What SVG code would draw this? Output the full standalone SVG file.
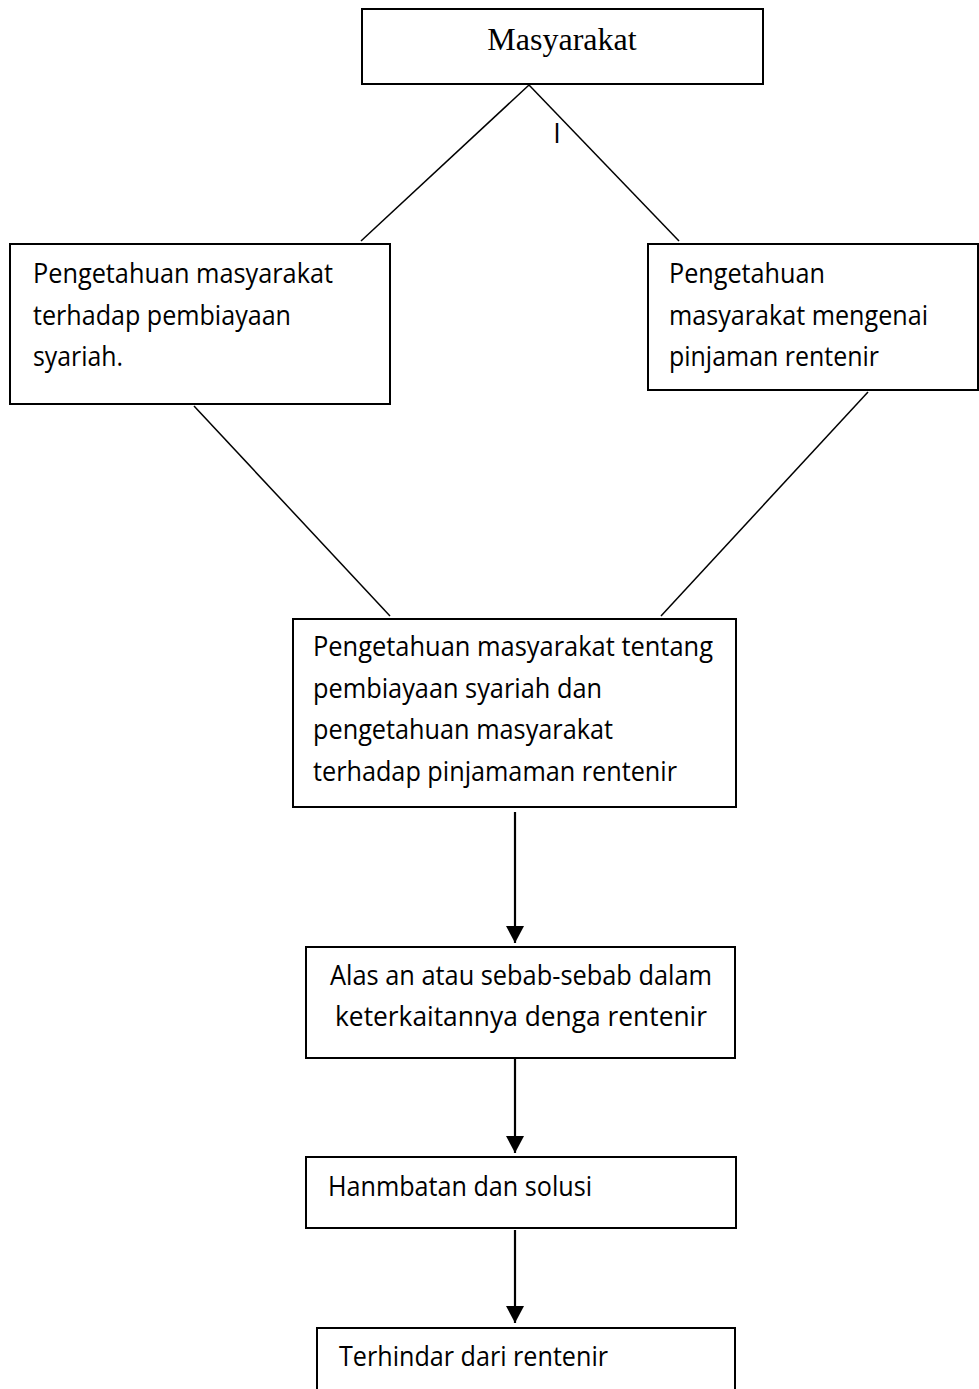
<svg xmlns="http://www.w3.org/2000/svg" width="979" height="1389" viewBox="0 0 979 1389">
<style>
.box{fill:#fff;stroke:#000;stroke-width:2}
.t{font-family:"Open Sans","Liberation Sans",sans-serif;font-size:27px;fill:#000}
.serif{font-family:"Liberation Serif","Times New Roman",serif;font-size:32px;fill:#000}
.ln{stroke:#000;stroke-width:1.5;fill:none}
.ar{stroke:#000;stroke-width:2.2;fill:none}
</style>
<defs>
<marker id="ah" markerUnits="userSpaceOnUse" markerWidth="18" markerHeight="18" refX="17" refY="9" orient="auto">
<path d="M0,0 L17,9 L0,18 z" fill="#000"/>
</marker>
</defs>
<rect width="979" height="1389" fill="#fff"/>
<g id="connectors">
<line class="ln" x1="529" y1="85" x2="361" y2="241"/>
<line class="ln" x1="529" y1="85" x2="679" y2="241"/>
<line class="ln" x1="194" y1="406" x2="390" y2="616"/>
<line class="ln" x1="868" y1="392" x2="661" y2="616"/>
<line class="ar" x1="515" y1="812" x2="515" y2="943" marker-end="url(#ah)"/>
<line class="ar" x1="515" y1="1059" x2="515" y2="1153" marker-end="url(#ah)"/>
<line class="ar" x1="515" y1="1230" x2="515" y2="1323" marker-end="url(#ah)"/>
<text class="t" x="557" y="143" text-anchor="middle">I</text>
</g>
<g id="masyarakat">
<rect class="box" x="362" y="9" width="401" height="75"/>
<text class="serif" x="562" y="50" text-anchor="middle">Masyarakat</text>
</g>
<g id="pengetahuan-syariah">
<rect class="box" x="10" y="244" width="380" height="160"/>
<text class="t" x="33" y="283" textLength="300" lengthAdjust="spacingAndGlyphs">Pengetahuan masyarakat</text>
<text class="t" x="33" y="324.5" textLength="258" lengthAdjust="spacingAndGlyphs">terhadap pembiayaan</text>
<text class="t" x="33" y="366" textLength="90" lengthAdjust="spacingAndGlyphs">syariah.</text>
</g>
<g id="pengetahuan-rentenir">
<rect class="box" x="648" y="244" width="330" height="146"/>
<text class="t" x="669" y="283" textLength="156" lengthAdjust="spacingAndGlyphs">Pengetahuan</text>
<text class="t" x="669" y="324.5" textLength="259" lengthAdjust="spacingAndGlyphs">masyarakat mengenai</text>
<text class="t" x="669" y="366" textLength="210" lengthAdjust="spacingAndGlyphs">pinjaman rentenir</text>
</g>
<g id="pengetahuan-gabungan">
<rect class="box" x="293" y="619" width="443" height="188"/>
<text class="t" x="313" y="656" textLength="400" lengthAdjust="spacingAndGlyphs">Pengetahuan masyarakat tentang</text>
<text class="t" x="313" y="698" textLength="289" lengthAdjust="spacingAndGlyphs">pembiayaan syariah dan</text>
<text class="t" x="313" y="739" textLength="300" lengthAdjust="spacingAndGlyphs">pengetahuan masyarakat</text>
<text class="t" x="313" y="781" textLength="364" lengthAdjust="spacingAndGlyphs">terhadap pinjamaman rentenir</text>
</g>
<g id="alasan">
<rect class="box" x="306" y="947" width="429" height="111"/>
<text class="t" x="521" y="985" text-anchor="middle" textLength="382" lengthAdjust="spacingAndGlyphs">Alas an atau sebab-sebab dalam</text>
<text class="t" x="521" y="1026" text-anchor="middle" textLength="372" lengthAdjust="spacingAndGlyphs">keterkaitannya denga rentenir</text>
</g>
<g id="hambatan">
<rect class="box" x="306" y="1157" width="430" height="71"/>
<text class="t" x="328" y="1196" textLength="264" lengthAdjust="spacingAndGlyphs">Hanmbatan dan solusi</text>
</g>
<g id="terhindar">
<path class="box" d="M317,1390 V1328 H735 V1390"/>
<text class="t" x="339" y="1366" textLength="269" lengthAdjust="spacingAndGlyphs">Terhindar dari rentenir</text>
</g>
</svg>
